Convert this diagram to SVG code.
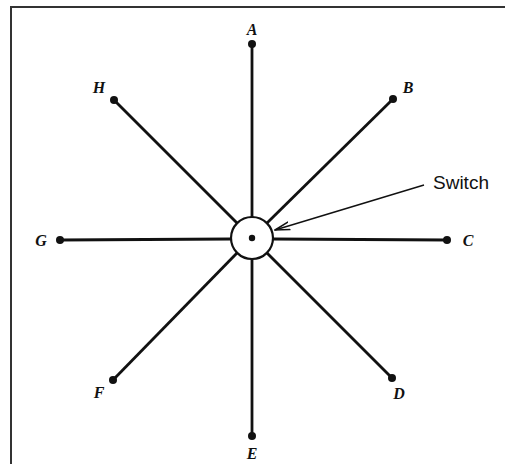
<svg xmlns="http://www.w3.org/2000/svg" width="505" height="464" viewBox="0 0 505 464">
<style>
.ln{stroke:#111;stroke-width:2.8;fill:none}
.dot{fill:#111}
.lbl{font-family:"Liberation Serif",serif;font-style:italic;font-weight:bold;font-size:16px;fill:#111;text-anchor:middle}
.sw{font-family:"Liberation Sans",sans-serif;font-size:19px;fill:#111}
</style>
<defs>
<marker id="ah" markerWidth="16" markerHeight="10" refX="15" refY="5" orient="auto" markerUnits="userSpaceOnUse">
<path d="M0,1 L15,5 L0,9" fill="none" stroke="#111" stroke-width="1.5"/>
</marker>
</defs>
<rect width="505" height="464" fill="#fff"/>
<path d="M11,464 V7 H505" fill="none" stroke="#333" stroke-width="2"/>
<g id="connectors">
<line class="ln" x1="252" y1="217" x2="252" y2="44"/>
<line class="ln" x1="267" y1="223" x2="393" y2="99"/>
<line class="ln" x1="273" y1="239" x2="447" y2="240"/>
<line class="ln" x1="267" y1="253" x2="392" y2="378"/>
<line class="ln" x1="252" y1="259" x2="252" y2="436"/>
<line class="ln" x1="237" y1="253" x2="113" y2="380"/>
<line class="ln" x1="231" y1="239" x2="60" y2="240"/>
<line class="ln" x1="237" y1="223" x2="114" y2="100"/>
<line x1="424" y1="185" x2="275" y2="230" stroke="#111" stroke-width="1.5" marker-end="url(#ah)"/>
</g>
<g id="switch">
<circle cx="252" cy="238" r="21" fill="#fff" stroke="#111" stroke-width="2.2"/>
<circle class="dot" cx="252" cy="238" r="3.2"/>
<text class="sw" x="433" y="189">Switch</text>
</g>
<g id="A"><circle class="dot" cx="252" cy="44" r="4"/><text class="lbl" x="252" y="35">A</text></g>
<g id="B"><circle class="dot" cx="393" cy="99" r="4"/><text class="lbl" x="408" y="93">B</text></g>
<g id="C"><circle class="dot" cx="447" cy="240" r="4"/><text class="lbl" x="468" y="246">C</text></g>
<g id="D"><circle class="dot" cx="392" cy="378" r="4"/><text class="lbl" x="399" y="399">D</text></g>
<g id="E"><circle class="dot" cx="252" cy="436" r="4"/><text class="lbl" x="252" y="459">E</text></g>
<g id="F"><circle class="dot" cx="113" cy="380" r="4"/><text class="lbl" x="99" y="398">F</text></g>
<g id="G"><circle class="dot" cx="60" cy="240" r="4"/><text class="lbl" x="41" y="246">G</text></g>
<g id="H"><circle class="dot" cx="114" cy="100" r="4"/><text class="lbl" x="99" y="93">H</text></g>
</svg>
